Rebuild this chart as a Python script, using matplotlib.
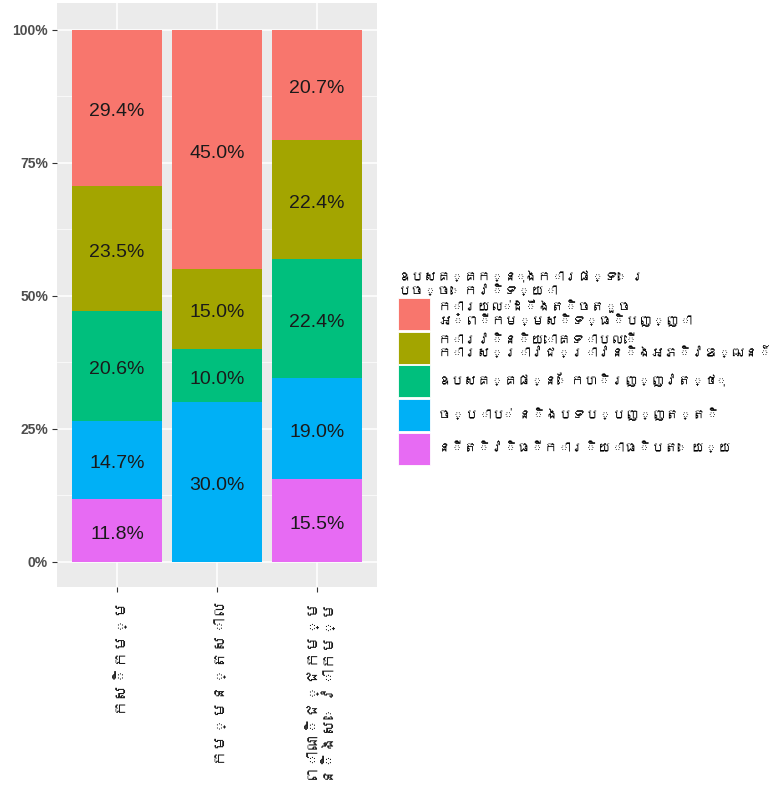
import matplotlib
matplotlib.use("Agg")
import matplotlib.pyplot as plt
import numpy as np
from matplotlib import font_manager
from matplotlib.ft2font import FT2Font
from matplotlib.patches import Patch

# Data (percent shares per sector)
sectors = ["កសិកម្ម", "កម្មន្តសាល", "ពាណិជ្ជកម្ម\nនិងសេវាកម្ម"]
obstacles = [
    "ការយល់ដឹងតិចតួច\nអំពីកម្មសិទ្ធិបញ្ញា",
    "ការវិនិយោគទាបលើ\nការស្រាវជ្រាវនិងអភិវឌ្ឍន៍",
    "ឧបសគ្គផ្នែកហិរញ្ញវត្ថុ",
    "ច្បាប់ និងបទប្បញ្ញត្តិ",
    "នីតិវិធីការិយាធិបតេយ្យ",
]
awareness = [29.4, 45.0, 20.7]
investment = [23.5, 15.0, 22.4]
finance = [20.6, 10.0, 22.4]
law = [14.7, 30.0, 19.0]
bureaucracy = [11.8, 0.0, 15.5]
legend_title = "ឧបសគ្គក្នុងការផ្ទេរ\nបច្ចេកវិទ្យា"

colors = ["#F8766D", "#A3A500", "#00BF7D", "#00B0F6", "#E76BF3"]


# Look for a font that can draw Khmer, fall back to DejaVu Sans
def find_khmer_font():
    for path in font_manager.findSystemFonts():
        try:
            if 0x1780 in FT2Font(path).get_charmap():
                font_manager.fontManager.addfont(path)
                return font_manager.FontProperties(fname=path).get_name()
        except Exception:
            continue
    return None


khmer = find_khmer_font()
km_family = [khmer, "DejaVu Sans"] if khmer else ["DejaVu Sans"]

W, H = 779, 787
fig = plt.figure(figsize=(W / 100, H / 100), dpi=100)
ax = fig.add_axes([57 / W, 1 - 587 / H, 320 / W, 584 / H])
ax.set_facecolor("#EBEBEB")

x = np.arange(len(sectors))
series = [awareness, investment, finance, law, bureaucracy]
# stack from the bottom: last series first
bottom = np.zeros(len(sectors))
for vals, col in zip(series[::-1], colors[::-1]):
    v = np.array(vals) / 100
    ax.bar(x, v, bottom=bottom, width=0.9, color=col, zorder=3)
    for xi, b, h in zip(x, bottom, v):
        if h > 0:
            ax.text(xi, b + h / 2 - 0.0075, f"{h * 100:.1f}%", ha="center", va="center",
                    fontsize=14, family="Liberation Sans", color="#1A1A1A", zorder=4)
    bottom += v

ax.set_xlim(-0.6, 2.6)
ax.set_ylim(-0.0475, 1.05)
ax.set_yticks([0, 0.25, 0.5, 0.75, 1.0])
ax.set_yticklabels(["0%", "25%", "50%", "75%", "100%"])
ax.set_yticks([0.125, 0.375, 0.625, 0.875], minor=True)
ax.set_xticks(x)
ax.set_xticklabels(sectors, rotation=90, ha="center", va="top", fontsize=12,
                   family=km_family, color="#1A1A1A", linespacing=1.0)
for lab in ax.get_yticklabels():
    lab.set_family("Liberation Sans")
    lab.set_fontweight("bold")
    lab.set_fontsize(10)
    lab.set_color("#4D4D4D")

ax.grid(True, which="major", color="white", linewidth=1.1, zorder=0)
ax.grid(True, which="minor", axis="y", color="white", linewidth=0.5, zorder=0)
ax.tick_params(axis="both", which="major", length=3.5, color="#333333", pad=3)
ax.tick_params(axis="y", which="minor", length=0)
for s in ax.spines.values():
    s.set_visible(False)
ax.set_axisbelow(True)


def make_legend(size):
    fs_px = size * 100 / 72
    # key of about 32 px square
    hh = (32 / fs_px - 0.245) / 0.65
    handles = [Patch(facecolor=c, edgecolor="white", linewidth=0.6) for c in colors]
    leg = fig.legend(handles, obstacles, loc="center left",
                     bbox_to_anchor=(398 / W, 1 - 368 / H),
                     title=legend_title, frameon=False,
                     handlelength=32 / fs_px, handleheight=hh,
                     labelspacing=0.12, handletextpad=0.6, borderaxespad=0, borderpad=0,
                     prop={"family": km_family, "size": size},
                     title_fontproperties={"family": km_family, "size": size,
                                           "weight": "bold"})
    for t in leg.get_texts():
        t.set_linespacing(1.05)
    leg.get_title().set_linespacing(1.05)
    leg._legend_box.align = "left"
    return leg


# shrink the legend text if it does not fit inside the figure
size = 12.0
leg = make_legend(size)
fig.canvas.draw()
r = fig.canvas.get_renderer()
right = leg.get_window_extent(r).x1
if right > W - 4:
    leg.remove()
    size = size * (W - 4 - 440) / (right - 440)
    leg = make_legend(size)

# shrink x tick labels if they run off the bottom
fig.canvas.draw()
low = min(t.get_window_extent(r).y0 for t in ax.get_xticklabels())
if low < 4:
    top = max(t.get_window_extent(r).y1 for t in ax.get_xticklabels())
    fs = 12 * (top - 4) / (top - low)
    for t in ax.get_xticklabels():
        t.set_fontsize(fs)

fig.savefig("out.png", dpi=100)
